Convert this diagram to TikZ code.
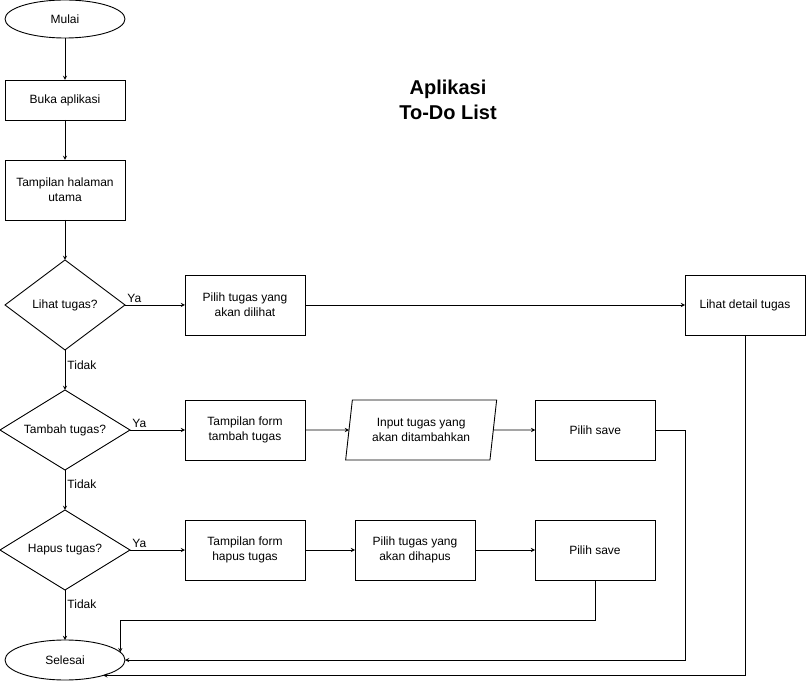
\documentclass[tikz,border=0pt]{standalone}
\usepackage{fontspec}
\setmainfont{Liberation Sans}
\usepackage{tikz}
\usetikzlibrary{shapes,shapes.geometric,arrows}
\usetikzlibrary{positioning}
\tikzstyle{arrow} = [line width=0.9pt,->,>=stealth]
\tikzstyle{terminal} = [
    ellipse, minimum width=120pt, minimum height=38pt, inner sep=0pt, outer sep=0pt,
    line width=0.9pt, draw=black, font=\fontsize{12}{14}\selectfont]
\tikzstyle{process} = [
    rectangle, minimum width=120pt, minimum height=60pt, text centered, align=center,
    outer sep=0pt, line width=0.9pt, draw=black, font=\fontsize{12}{15}\selectfont]
\tikzstyle{decision} = [
    diamond, minimum width=130pt, minimum height=80pt, aspect=1.6, inner sep=0pt,
    outer sep=0pt, line width=0.9pt, draw=black, font=\fontsize{12}{14}\selectfont]
\tikzstyle{io} = [
    trapezium, trapezium left angle=74, trapezium right angle=106,
    minimum width=151pt, minimum height=60pt, align=center, inner sep=0pt,
    trapezium stretches body, outer sep=0pt,
    line width=0.9pt, draw=black, font=\fontsize{12}{15}\selectfont]
\tikzstyle{lbl} = [inner sep=2pt, font=\fontsize{12}{14}\selectfont]

\begin{document}
\begin{tikzpicture}[x=1pt,y=-1pt]
\useasboundingbox (0,0) rectangle (806,684);

\node (mulai) [terminal] at (65,19) {Mulai};

\node (buka) [process, minimum height=40pt, below=42pt of mulai] {Buka aplikasi};

\node (utama) [process, below=40pt of buka] {Tampilan halaman\\utama};

\node (lihat) [decision, minimum width=120pt, minimum height=90pt, aspect=1.33,
    below=40pt of utama] {Lihat tugas?};

\node (tambah) [decision, below=40pt of lihat] {Tambah tugas?};

\node (hapus) [decision, below=40pt of tambah] {Hapus tugas?};

\node (selesai) [terminal, minimum height=40pt, below=50pt of hapus] {Selesai};

\node (pilih-lihat) [process, right=60pt of lihat] {Pilih tugas yang\\akan dilihat};

\node (detail) [process, right=380pt of pilih-lihat] {Lihat detail tugas};

\node (form-tambah) [process, right=55pt of tambah] {Tampilan form\\tambah tugas};

\node (input-tugas) [io, right=44pt of form-tambah] {Input tugas yang\\akan ditambahkan};

\node (save-tambah) [process, right=42pt of input-tugas] {Pilih save};

\node (form-hapus) [process, right=55pt of hapus] {Tampilan form\\hapus tugas};

\node (pilih-hapus) [process, right=50pt of form-hapus] {Pilih tugas yang\\akan dihapus};

\node (save-hapus) [process, right=60pt of pilih-hapus] {Pilih save};

\node (judul) [align=center, font=\fontsize{20}{25}\selectfont\bfseries] at (448,100)
    {Aplikasi\\To-Do List};

\draw [arrow] (mulai) -- (buka);
\draw [arrow] (buka) -- (utama);
\draw [arrow] (utama) -- (lihat);
\draw [arrow] (lihat) -- node[lbl, pos=0.375, right] {Tidak} (tambah);
\draw [arrow] (tambah) -- node[lbl, pos=0.35, right] {Tidak} (hapus);
\draw [arrow] (hapus) -- node[lbl, pos=0.28, right] {Tidak} (selesai);

\draw [arrow] (lihat) -- node[lbl, pos=0, above right] {Ya} (pilih-lihat);
\draw [arrow] (pilih-lihat) -- (detail);
\draw [arrow] (tambah) -- node[lbl, pos=0, above right] {Ya} (form-tambah);
\draw [arrow] (form-tambah) -- (input-tugas);
\draw [arrow] (input-tugas) -- (save-tambah);
\draw [arrow] (hapus) -- node[lbl, pos=0, above right] {Ya} (form-hapus);
\draw [arrow] (form-hapus) -- (pilih-hapus);
\draw [arrow] (pilih-hapus) -- (save-hapus);

\draw [arrow] (save-hapus.south) -- ++(0,40) -| (selesai.8);
\draw [arrow] (save-tambah.east) -- ++(30,0) |- (selesai.east);
\draw [arrow] (detail.south) |- (selesai.-22);
\end{tikzpicture}
\end{document}
